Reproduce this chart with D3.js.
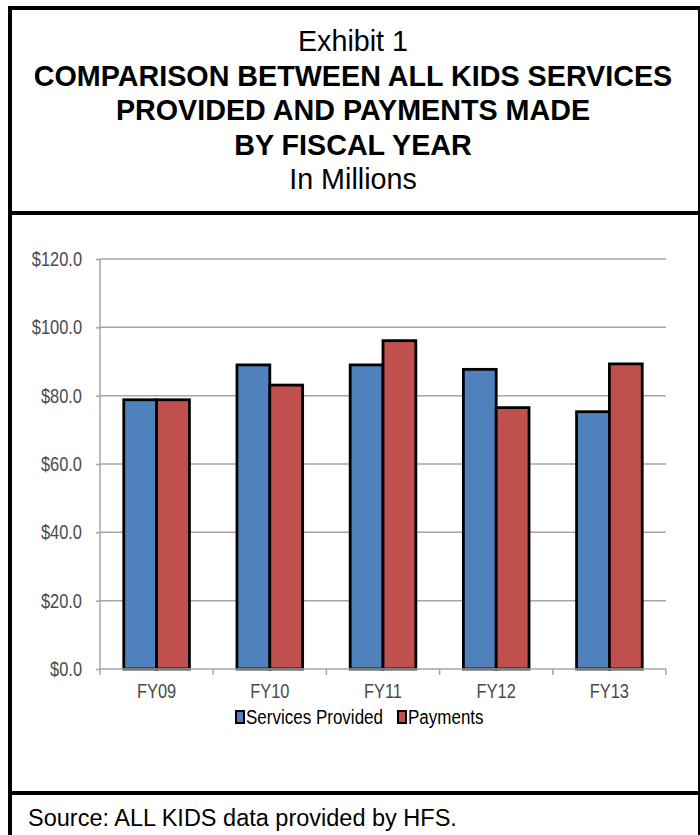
<!DOCTYPE html>
<meta charset="utf-8">
<style>
body { margin: 0; background: #fff; }
.title text { font-family: "Liberation Sans", Arial, sans-serif; fill: #000; text-anchor: middle; }
.axis text { font-family: "Liberation Sans", Arial, sans-serif; fill: #4a4a4a; font-size: 20px; }
.axis line, .axis path { stroke: #a6a6a6; stroke-width: 1.5; }
.legend text { font-family: "Liberation Sans", Arial, sans-serif; font-size: 20px; fill: #000; }
</style>
<body>
<div id="chart"></div>
<script src="https://d3js.org/d3.v7.min.js"></script>
<script>

    // data
    var years = ["FY09", "FY10", "FY11", "FY12", "FY13"];
    var services = [78.8, 89.0, 89.0, 87.7, 75.3];
    var payments = [78.8, 83.1, 96.1, 76.5, 89.3];
    var seriesNames = ["Services Provided", "Payments"];
    var seriesColors = ["#4f81bd", "#c0504d"];
    var yTicks = [0, 20, 40, 60, 80, 100, 120];

    var titleLines = [
        {text: "Exhibit 1", bold: false},
        {text: "COMPARISON BETWEEN ALL KIDS SERVICES", bold: true},
        {text: "PROVIDED AND PAYMENTS MADE", bold: true},
        {text: "BY FISCAL YEAR", bold: true},
        {text: "In Millions", bold: false}
    ];

    var W = 700, H = 835;
    var svg = d3.select("#chart").append("svg")
        .attr("width", W)
        .attr("height", H);

    // squeeze a text horizontally, the chart font is a narrow one
    function narrow(sel, k) {
        sel.each(function() {
            var len = this.getComputedTextLength();
            d3.select(this)
                .attr("textLength", len * k)
                .attr("lengthAdjust", "spacingAndGlyphs");
        });
    }

    // frame of the exhibit
    svg.append("rect")
        .attr("x", 10).attr("y", 8)
        .attr("width", 690).attr("height", 850)
        .style("fill", "none")
        .style("stroke", "#000")
        .style("stroke-width", 4);

    svg.append("line")
        .attr("x1", 10).attr("x2", 700)
        .attr("y1", 213).attr("y2", 213)
        .style("stroke", "#000").style("stroke-width", 4);

    svg.append("line")
        .attr("x1", 10).attr("x2", 700)
        .attr("y1", 793).attr("y2", 793)
        .style("stroke", "#000").style("stroke-width", 4);

    // title block
    svg.append("g")
        .attr("class", "title")
        .selectAll("text")
        .data(titleLines)
        .enter().append("text")
        .attr("x", 353)
        .attr("y", function(d, i) { return 51 + i * 34.5; })
        .style("font-size", "29.6px")
        .style("font-weight", function(d) { return d.bold ? "bold" : "normal"; })
        .text(function(d) { return d.text; })
        .call(narrow, 0.97);

    // source line
    svg.append("text")
        .attr("x", 28)
        .attr("y", 826)
        .style("font-family", "'Liberation Sans', Arial, sans-serif")
        .style("font-size", "23.5px")
        .style("fill", "#000")
        .text("Source: ALL KIDS data provided by HFS.");

    // plot area
    var plotLeft = 100, plotRight = 666, plotTop = 259, plotBottom = 669;

    var x0 = d3.scaleBand()
        .domain(years)
        .range([plotLeft, plotRight])
        .paddingInner(0.42)
        .paddingOuter(0.21);

    var x1 = d3.scaleBand()
        .domain(seriesNames)
        .range([0, x0.bandwidth()]);

    var y = d3.scaleLinear()
        .domain([0, 120])
        .range([plotBottom, plotTop]);

    // gridlines
    svg.append("g")
        .selectAll("line")
        .data(yTicks.slice(1))
        .enter().append("line")
        .attr("x1", plotLeft).attr("x2", plotRight)
        .attr("y1", function(d) { return y(d); })
        .attr("y2", function(d) { return y(d); })
        .style("stroke", "#a6a6a6")
        .style("stroke-width", 1.5);

    // y axis
    var yAxis = svg.append("g")
        .attr("class", "axis")
        .attr("transform", "translate(" + plotLeft + ",0)")
        .call(d3.axisLeft(y)
            .tickValues(yTicks)
            .tickSize(4)
            .tickPadding(14)
            .tickFormat(function(d) { return "$" + d3.format(".1f")(d); }));
    yAxis.select(".domain").attr("d", "M0," + plotTop + "V" + plotBottom);
    yAxis.selectAll("text").call(narrow, 0.82);

    // bars
    var seriesData = [services, payments];
    var groups = svg.append("g")
        .selectAll("g")
        .data(years)
        .enter().append("g")
        .attr("transform", function(d) { return "translate(" + x0(d) + ",0)"; });

    groups.selectAll("rect")
        .data(function(d, i) {
            return seriesNames.map(function(name, s) {
                return {name: name, value: seriesData[s][i], color: seriesColors[s]};
            });
        })
        .enter().append("rect")
        .attr("x", function(d) { return x1(d.name); })
        .attr("y", function(d) { return y(d.value); })
        .attr("width", x1.bandwidth())
        .attr("height", function(d) { return plotBottom - y(d.value); })
        .style("fill", function(d) { return d.color; })
        .style("stroke", "#000")
        .style("stroke-width", 2.8);

    // x axis with ticks between categories
    var xAxis = svg.append("g")
        .attr("class", "axis")
        .attr("transform", "translate(0," + plotBottom + ")");

    xAxis.append("line")
        .attr("x1", plotLeft).attr("x2", plotRight)
        .attr("y1", 0).attr("y2", 0);

    var step = x0.step();
    xAxis.selectAll(".tick-mark")
        .data(d3.range(years.length + 1))
        .enter().append("line")
        .attr("class", "tick-mark")
        .attr("x1", function(i) { return plotLeft + i * step; })
        .attr("x2", function(i) { return plotLeft + i * step; })
        .attr("y1", 0).attr("y2", 6);

    xAxis.selectAll(".label")
        .data(years)
        .enter().append("text")
        .attr("class", "label")
        .attr("x", function(d) { return x0(d) + x0.bandwidth() / 2; })
        .attr("y", 29)
        .style("text-anchor", "middle")
        .text(function(d) { return d; })
        .call(narrow, 0.82);

    // legend
    var legend = svg.append("g")
        .attr("class", "legend")
        .attr("transform", "translate(235,724)");

    var legendX = [0, 162];
    var items = legend.selectAll("g")
        .data(seriesNames)
        .enter().append("g")
        .attr("transform", function(d, i) { return "translate(" + legendX[i] + ",0)"; });

    items.append("rect")
        .attr("x", 1).attr("y", -13)
        .attr("width", 8).attr("height", 12)
        .style("fill", function(d, i) { return seriesColors[i]; })
        .style("stroke", "#000")
        .style("stroke-width", 2);

    items.append("text")
        .attr("x", 11)
        .attr("y", 0)
        .text(function(d) { return d; })
        .call(narrow, 0.85);

</script>
</body>
